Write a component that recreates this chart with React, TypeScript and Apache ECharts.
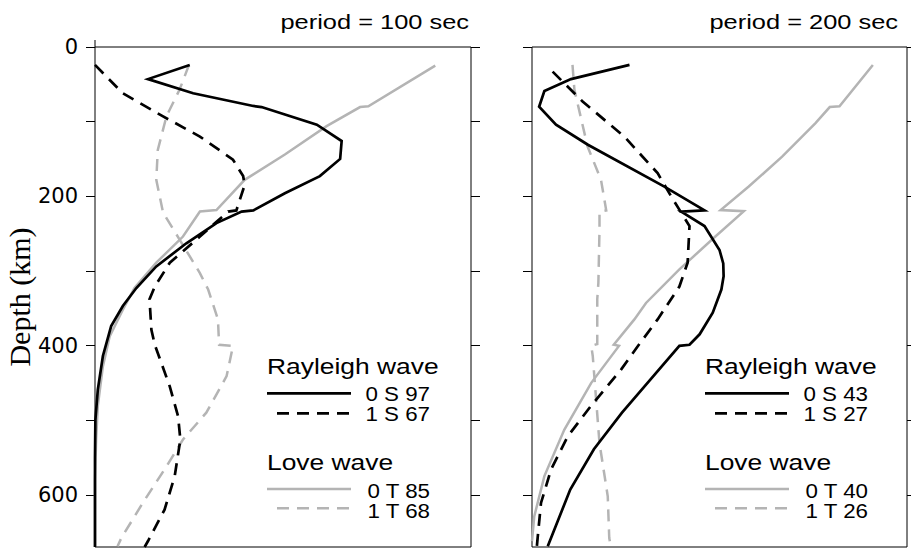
import React, { useEffect, useRef } from 'react';
import * as echarts from 'echarts';

// ---------- axis ----------
const depthTicks = [0, 100, 200, 300, 400, 500, 600];
const depthLabels = [0, 200, 400, 600];
const depthMax = 670;
const yAxisTitle = 'Depth (km)';
const panelTitles = ['period = 100 sec', 'period = 200 sec'];

// ---------- period = 100 sec ----------
const p100_0S_amp = [25.2, 14.1, 26.1, 42.1, 44.3, 59.0, 65.6, 65.2, 59.8, 50.5, 42.1, 39.0, 32.3, 24.3, 16.3, 11.0, 7.4, 4.3, 2.1, 0.75, 0.1, 0, 0];
const p100_0S_dep = [24, 43, 62, 79, 80.5, 104, 126, 150, 173, 196, 219, 220.5, 236, 263, 294, 323, 347, 374, 414, 459, 500, 550, 670];

const p100_1S_amp = [0, 7.4, 18.1, 27.9, 36.7, 39.4, 39.8, 38.5, 37.6, 35.4, 27.9, 19.9, 15.9, 14.5, 15.0, 15.9, 19.9, 22.1, 22.7, 21.2, 18.5, 14.1, 13.2];
const p100_1S_dep = [24, 62, 93, 120, 151, 173, 185, 205, 219, 220.5, 254, 289, 321, 338, 379, 399, 455, 495, 526, 575, 620, 662, 670];

const p100_0T_amp = [90.5, 72.7, 70.5, 61.6, 50.5, 39.8, 32.3, 27.9, 23.4, 16.3, 10.5, 7.4, 3.9, 2.1, 0.75, 0.3, 0, 0];
const p100_0T_dep = [25, 79.5, 80.5, 106, 144, 178, 218.5, 220.5, 254, 289, 323, 352, 388, 428, 481, 526, 580, 670];

const p100_1T_amp = [25.0, 22.5, 19.0, 16.7, 16.3, 18.1, 22.5, 27.9, 30.1, 32.7, 33.0, 36.7, 35.0, 29.6, 23.4, 19.0, 12.7, 7.0, 6.0];
const p100_1T_dep = [24, 57, 93, 138, 178, 222, 258, 303, 325, 365, 399, 400.5, 441, 490, 526, 562, 611, 658, 669];

// ---------- period = 200 sec ----------
const p200_0S_amp = [26.0, 10.4, 3.3, 1.9, 6.4, 14.9, 35.3, 46.0, 39.8, 46.0, 50.0, 51.0, 51.1, 50.5, 48.2, 44.7, 42.0, 39.3, 31.5, 24.0, 16.5, 10.2, 4.2];
const p200_0S_dep = [24, 43, 59, 80, 104, 131, 187, 219, 220.5, 240, 272, 290, 307, 325, 356, 385, 399, 400.5, 446, 490, 539, 593, 669];

const p200_1S_amp = [5.5, 13.5, 24.6, 33.5, 37.1, 42.0, 41.5, 39.3, 33.5, 28.2, 23.8, 15.7, 9.5, 5.1, 2.4, 1.5, 1.3];
const p200_1S_dep = [33, 73, 120, 169, 200, 240, 289, 321, 365, 401, 432, 481, 522, 566, 611, 658, 669];

const p200_0T_amp = [90.9, 82.0, 79.4, 75.6, 66.7, 57.8, 50.3, 56.5, 48.9, 39.3, 30.4, 27.3, 21.8, 23.2, 15.8, 8.6, 3.3, 0.6, 0];
const p200_0T_dep = [24, 79.5, 80.5, 102, 147, 187, 218.5, 220, 254, 298, 343, 365, 399, 400.5, 450, 513, 575, 629, 662];

const p200_1T_amp = [10.8, 11.3, 14.8, 18.4, 19.8, 18.0, 18.0, 17.7, 17.4, 17.4, 15.8, 16.2, 18.0, 20.2, 20.6, 21.0];
const p200_1T_dep = [24, 57, 133, 178, 219, 221, 245, 316, 338, 398, 400.5, 414, 531, 602, 658, 669];

// ---------- legend ----------
const legendGroups = ['Rayleigh wave', 'Love wave'];
const legend100 = ['0 S 97', '1 S 67', '0 T 85', '1 T 68'];
const legend200 = ['0 S 43', '1 S 27', '0 T 40', '1 T 26'];

const BLACK = '#000000';
const GRAY = '#b4b4b4';
const DASH = [12, 8];
const SANS = '"Liberation Sans", Arial, Helvetica, sans-serif';
const SERIF = '"Liberation Serif", "Times New Roman", serif';

const zip = (a: number[], d: number[]) => a.map((v, i) => [v, d[i]]);

function lineSeries(name: string, amp: number[], dep: number[], g: number, color: string, dashed: boolean, width: number) {
  return {
    name,
    type: 'line',
    xAxisIndex: g,
    yAxisIndex: g * 2,
    data: zip(amp, dep),
    showSymbol: false,
    symbol: 'none',
    silent: true,
    smooth: false,
    lineStyle: {
      color,
      width,
      type: dashed ? DASH : 'solid',
      join: 'miter',
      miterLimit: 10,
      cap: 'butt',
    },
  };
}

function legendGraphics(dx: number, labels: string[]) {
  const els: any[] = [];
  const groupFont = { fontSize: 22, fontFamily: SANS, fill: '#000' };
  const numFont = { fontSize: 20.5, fontFamily: SANS, fill: '#000' };
  const gx = 267 + dx;
  const lx2 = 351 + dx;
  const tx = 430 + dx;
  els.push({ type: 'text', x: gx, y: 366, scaleX: 1.2, style: { text: legendGroups[0], align: 'left', verticalAlign: 'middle', ...groupFont } });
  els.push({ type: 'line', shape: { x1: gx, y1: 393.3, x2: lx2, y2: 393.3 }, style: { stroke: BLACK, lineWidth: 2.7 } });
  els.push({ type: 'text', x: tx, y: 394.6, scaleX: 1.09, style: { text: labels[0], align: 'right', verticalAlign: 'middle', ...numFont } });
  els.push({ type: 'line', shape: { x1: gx + 10, y1: 413.3, x2: lx2, y2: 413.3 }, style: { stroke: BLACK, lineWidth: 2.7, lineDash: DASH } });
  els.push({ type: 'text', x: tx, y: 414.6, scaleX: 1.09, style: { text: labels[1], align: 'right', verticalAlign: 'middle', ...numFont } });
  els.push({ type: 'text', x: gx, y: 462.4, scaleX: 1.2, style: { text: legendGroups[1], align: 'left', verticalAlign: 'middle', ...groupFont } });
  els.push({ type: 'line', shape: { x1: gx, y1: 489, x2: lx2, y2: 489 }, style: { stroke: GRAY, lineWidth: 2.5 } });
  els.push({ type: 'text', x: tx, y: 491.2, scaleX: 1.09, style: { text: labels[2], align: 'right', verticalAlign: 'middle', ...numFont } });
  els.push({ type: 'line', shape: { x1: gx + 10, y1: 508.3, x2: lx2, y2: 508.3 }, style: { stroke: GRAY, lineWidth: 2.5, lineDash: DASH } });
  els.push({ type: 'text', x: tx, y: 511.2, scaleX: 1.09, style: { text: labels[3], align: 'right', verticalAlign: 'middle', ...numFont } });
  return els;
}

function yAxes(g: number) {
  const common = {
    gridIndex: g,
    type: 'value',
    inverse: true,
    min: 0,
    max: depthMax,
    axisLine: { show: false },
    splitLine: { show: false },
    axisTick: {
      show: true,
      inside: false,
      length: 9,
      customValues: depthTicks,
      lineStyle: { color: '#000', width: 1 },
    },
  };
  return [
    {
      ...common,
      position: 'left',
      axisLabel: {
        show: g === 0,
        customValues: depthLabels,
        margin: 17,
        fontSize: 21,
        fontFamily: '"DejaVu Sans", sans-serif',
        color: '#000',
      },
      name: g === 0 ? yAxisTitle : '',
      nameLocation: 'middle',
      nameRotate: 90,
      nameGap: 61,
      nameTextStyle: { fontSize: 30, fontFamily: SERIF, color: '#000' },
    },
    {
      ...common,
      position: 'right',
      axisLabel: { show: false },
    },
  ];
}

const gridCommon = { top: 47, height: 500, show: true, borderColor: '#000', borderWidth: 1, backgroundColor: 'transparent', containLabel: false, outerBoundsMode: 'none' };

const option: any = {
  animation: false,
  backgroundColor: '#ffffff',
  grid: [
    { ...gridCommon, left: 95, width: 376 },
    { ...gridCommon, left: 532, width: 375 },
  ],
  xAxis: [0, 1].map((g) => ({
    gridIndex: g,
    type: 'value',
    min: 0,
    max: 100,
    axisLine: { show: false },
    axisTick: { show: false },
    axisLabel: { show: false },
    splitLine: { show: false },
  })),
  yAxis: [...yAxes(0), ...yAxes(1)],
  series: [
    lineSeries('0 T 85', p100_0T_amp, p100_0T_dep, 0, GRAY, false, 2.5),
    lineSeries('1 T 68', p100_1T_amp, p100_1T_dep, 0, GRAY, true, 2.5),
    lineSeries('1 S 67', p100_1S_amp, p100_1S_dep, 0, BLACK, true, 2.7),
    lineSeries('0 S 97', p100_0S_amp, p100_0S_dep, 0, BLACK, false, 2.7),
    lineSeries('0 T 40', p200_0T_amp, p200_0T_dep, 1, GRAY, false, 2.5),
    lineSeries('1 T 26', p200_1T_amp, p200_1T_dep, 1, GRAY, true, 2.5),
    lineSeries('1 S 27', p200_1S_amp, p200_1S_dep, 1, BLACK, true, 2.7),
    lineSeries('0 S 43', p200_0S_amp, p200_0S_dep, 1, BLACK, false, 2.7),
  ],
  graphic: [
    { type: 'text', x: 469, y: 22, scaleX: 1.27, style: { text: panelTitles[0], align: 'right', verticalAlign: 'middle', fontSize: 20, fontFamily: SANS, fill: '#000' } },
    { type: 'text', x: 898, y: 22, scaleX: 1.27, style: { text: panelTitles[1], align: 'right', verticalAlign: 'middle', fontSize: 20, fontFamily: SANS, fill: '#000' } },
    { type: 'line', shape: { x1: 95, y1: 40, x2: 95, y2: 47 }, style: { stroke: '#000', lineWidth: 1 } },
    ...legendGraphics(0, legend100),
    ...legendGraphics(438, legend200),
  ],
};

export default function App() {
  const ref = useRef<HTMLDivElement>(null);
  useEffect(() => {
    if (!ref.current) return;
    const chart = echarts.init(ref.current, null, { renderer: 'svg' });
    chart.setOption(option);
    return () => chart.dispose();
  }, []);
  return (
    <div
      ref={ref}
      style={{ position: 'fixed', left: 0, top: 0, width: 911, height: 552, background: '#fff' }}
    />
  );
}
